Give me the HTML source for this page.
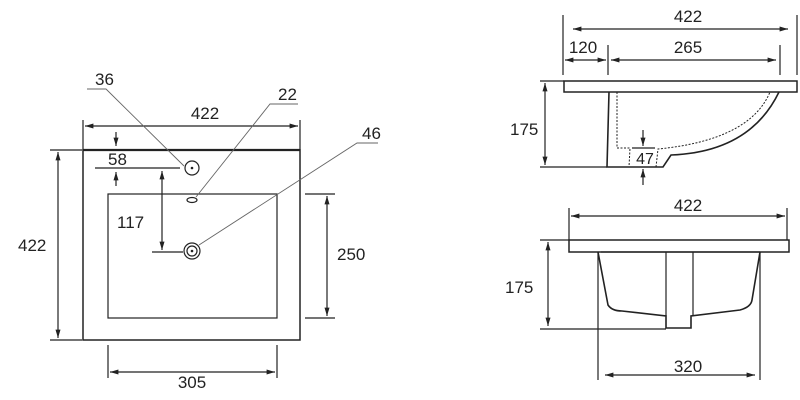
<!DOCTYPE html>
<html><head><style>html,body{margin:0;padding:0;background:#fff}svg{display:block}text{font-family:"Liberation Sans",Arial,sans-serif;font-size:17px;fill:#222}</style></head><body>
<svg width="800" height="400" viewBox="0 0 800 400" xmlns="http://www.w3.org/2000/svg">
<defs><marker id="a" viewBox="0 0 10 10" refX="10" refY="5" markerWidth="7" markerHeight="7" orient="auto-start-reverse"><path d="M0,2 L10,5 L0,8 z" fill="#222"/></marker></defs>
<g stroke="#222" stroke-width="1.2" fill="none">
<rect x="83" y="150" width="217" height="190" stroke-width="1.5"/>
<line x1="83" y1="150" x2="300" y2="150" stroke-width="2.2"/>
<rect x="108" y="194" width="169" height="124"/>
<line x1="83" y1="120" x2="83" y2="150"/><line x1="300" y1="120" x2="300" y2="150"/>
<line x1="85" y1="126" x2="298" y2="126" marker-start="url(#a)" marker-end="url(#a)"/>
<line x1="50" y1="150" x2="82" y2="150"/><line x1="50" y1="340" x2="82" y2="340"/>
<line x1="58" y1="152" x2="58" y2="338" marker-start="url(#a)" marker-end="url(#a)"/>
<line x1="305" y1="194" x2="335" y2="194"/><line x1="305" y1="318" x2="335" y2="318"/>
<line x1="327" y1="196" x2="327" y2="316" marker-start="url(#a)" marker-end="url(#a)"/>
<line x1="108" y1="345" x2="108" y2="378"/><line x1="277" y1="345" x2="277" y2="378"/>
<line x1="110" y1="372" x2="275" y2="372" marker-start="url(#a)" marker-end="url(#a)"/>
<circle cx="192" cy="168" r="7"/><ellipse cx="192" cy="200" rx="5" ry="2.5"/>
<circle cx="192" cy="251" r="8"/><circle cx="192" cy="251" r="5"/>
<line x1="116" y1="132" x2="116" y2="146" marker-end="url(#a)"/>
<line x1="116" y1="186" x2="116" y2="172" marker-end="url(#a)"/>
<line x1="95" y1="168" x2="180" y2="168"/>
<line x1="162" y1="171" x2="162" y2="250" marker-start="url(#a)" marker-end="url(#a)"/>
<line x1="152" y1="252" x2="183" y2="252"/>
</g>
<circle cx="192" cy="168" r="1.3" fill="#222"/><circle cx="192" cy="251" r="1.3" fill="#222"/>
<g stroke="#666" stroke-width="0.9" fill="none">
<polyline points="87,89 106,89 184,166"/>
<polyline points="298,104 270,104 196,197"/>
<polyline points="378,143 357,143 199,245"/>
</g>
<text x="205" y="119" text-anchor="middle">422</text>
<text x="18" y="251">422</text>
<text x="337" y="260">250</text>
<text x="192" y="388" text-anchor="middle">305</text>
<text x="108" y="165">58</text>
<text x="117" y="228">117</text>
<text x="95" y="85">36</text>
<text x="278" y="100">22</text>
<text x="362" y="139">46</text>
<g stroke="#222" stroke-width="1.2" fill="none">
<line x1="563" y1="15" x2="563" y2="75"/><line x1="797" y1="15" x2="797" y2="75"/>
<line x1="608" y1="45" x2="608" y2="75"/><line x1="780" y1="45" x2="780" y2="75"/>
<line x1="573" y1="29" x2="788" y2="29" marker-start="url(#a)" marker-end="url(#a)"/>
<line x1="565" y1="60" x2="606" y2="60" marker-start="url(#a)" marker-end="url(#a)"/>
<line x1="611" y1="60" x2="776" y2="60" marker-start="url(#a)" marker-end="url(#a)"/>
<rect x="564" y="81" width="233" height="11" stroke-width="1.5"/>
<path d="M609,92 L607,167 L663,167 L671,155 Q750,152 779,92" stroke-width="1.6"/>
<path d="M617,92 L617,148 L630,148 L629,167 M656,167 L658,149 Q750,140 770,92" stroke-dasharray="2,1.5" stroke-width="1"/>
<line x1="540" y1="81" x2="564" y2="81"/><line x1="540" y1="167" x2="607" y2="167"/>
<line x1="545" y1="83" x2="545" y2="165" marker-start="url(#a)" marker-end="url(#a)"/>
<line x1="643" y1="130" x2="643" y2="146" marker-end="url(#a)"/>
<line x1="643" y1="185" x2="643" y2="169" marker-end="url(#a)"/>
<line x1="632" y1="148" x2="655" y2="148"/>
</g>
<text x="688" y="22" text-anchor="middle">422</text>
<text x="583" y="53" text-anchor="middle">120</text>
<text x="688" y="53" text-anchor="middle">265</text>
<text x="510" y="135">175</text>
<text x="645" y="164" text-anchor="middle" style="font-size:16px">47</text>
<g stroke="#222" stroke-width="1.2" fill="none">
<line x1="569" y1="208" x2="569" y2="240"/><line x1="787" y1="208" x2="787" y2="240"/>
<line x1="571" y1="216" x2="785" y2="216" marker-start="url(#a)" marker-end="url(#a)"/>
<rect x="569" y="240" width="220" height="12" stroke-width="1.5"/>
<path d="M598,252 L608,305 Q612,311 622,311 L666,316 L666,328 L691,328 L691,316 L740,310 Q751,307 752,300 L760,252" stroke-width="1.6"/>
<line x1="601" y1="252" x2="760" y2="252"/>
<line x1="666" y1="252" x2="666" y2="316"/><line x1="693" y1="252" x2="693" y2="316"/>
<line x1="540" y1="240" x2="569" y2="240"/><line x1="540" y1="329" x2="666" y2="329"/>
<line x1="548" y1="242" x2="548" y2="326" marker-start="url(#a)" marker-end="url(#a)"/>
<line x1="598" y1="252" x2="598" y2="380"/><line x1="760" y1="252" x2="760" y2="380"/>
<line x1="605" y1="375" x2="755" y2="375" marker-start="url(#a)" marker-end="url(#a)"/>
</g>
<text x="688" y="211" text-anchor="middle">422</text>
<text x="505" y="293">175</text>
<text x="688" y="372" text-anchor="middle">320</text>
</svg>
</body></html>
